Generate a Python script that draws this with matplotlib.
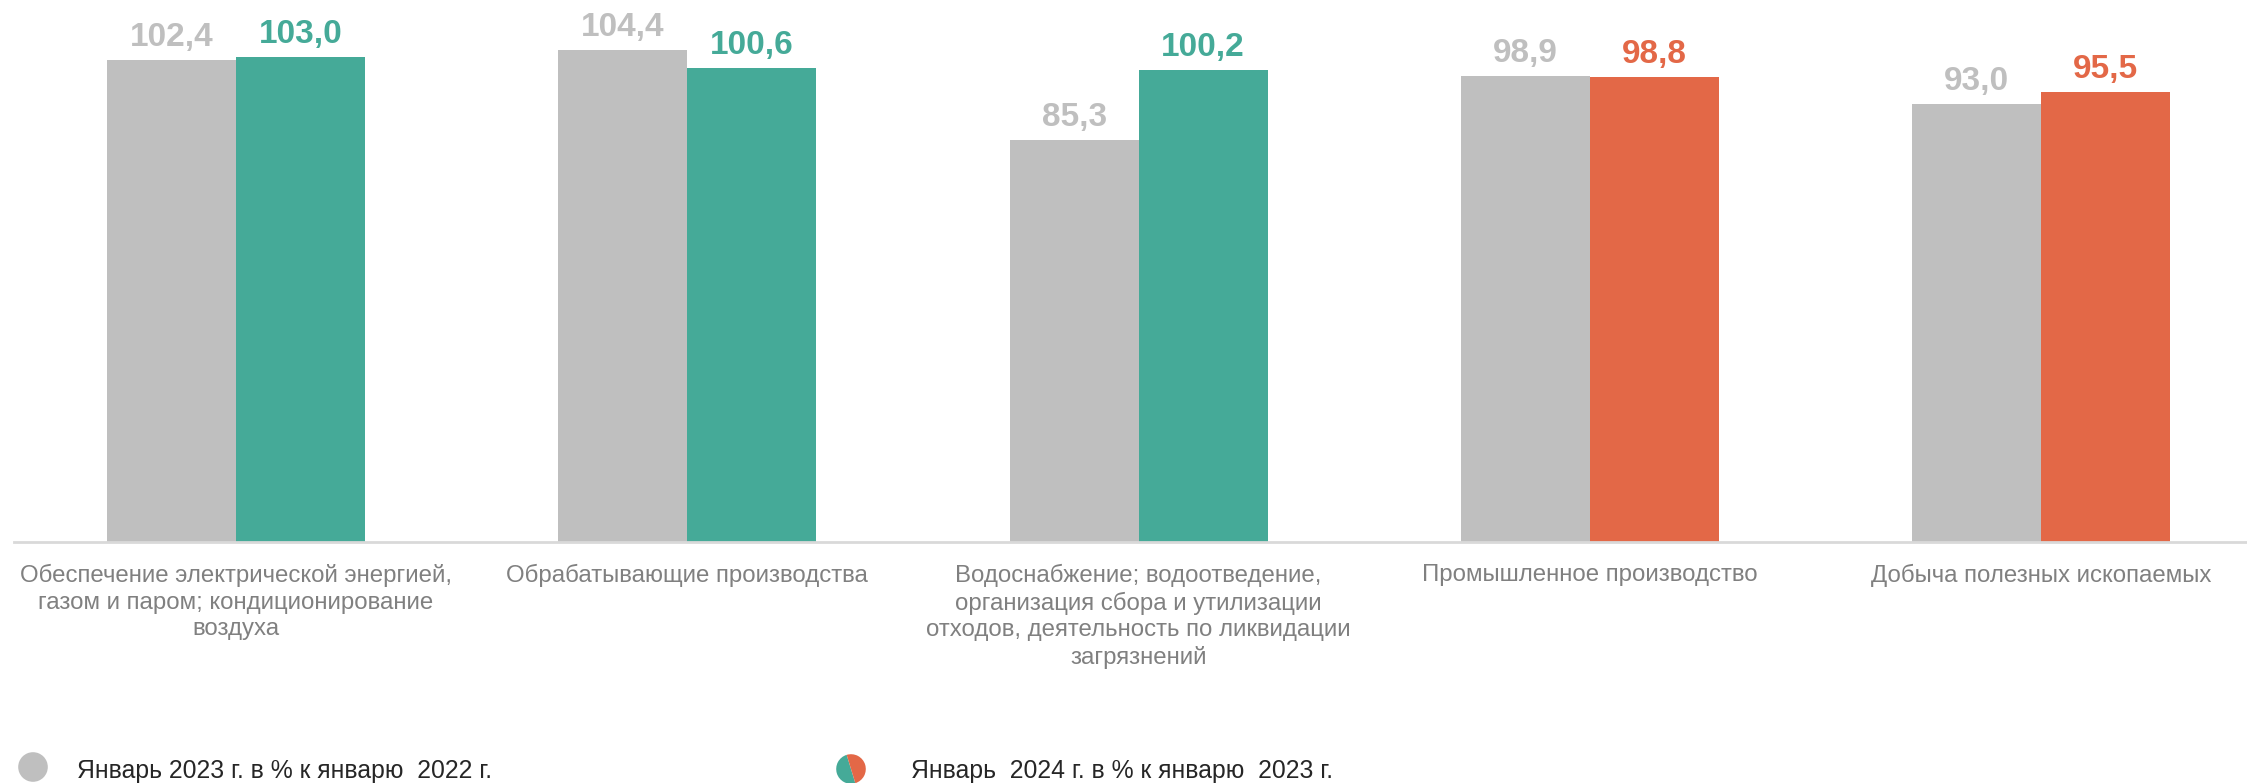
import matplotlib
matplotlib.use("Agg")
import matplotlib.pyplot as plt
import numpy as np

plt.rcParams["font.family"] = ["Liberation Sans", "DejaVu Sans"]

# данные
categories = [
    "Обеспечение электрической энергией,\nгазом и паром; кондиционирование\nвоздуха",
    "Обрабатывающие производства",
    "Водоснабжение; водоотведение,\nорганизация сбора и утилизации\nотходов, деятельность по ликвидации\nзагрязнений",
    "Промышленное производство",
    "Добыча полезных ископаемых",
]
jan2023 = [102.4, 104.4, 85.3, 98.9, 93.0]
jan2024 = [103.0, 100.6, 100.2, 98.8, 95.5]
legend_labels = [
    "Январь 2023 г. в % к январю  2022 г.",
    "Январь  2024 г. в % к январю  2023 г.",
]

GRAY = "#BFBFBF"
TEAL = "#45AA98"
ORANGE = "#E36847"
colors24 = [TEAL if v >= 100 else ORANGE for v in jan2024]

fig = plt.figure(figsize=(22.47, 7.83), dpi=100)
ax = fig.add_axes([14 / 2247, 241 / 783, 1 - 14 / 2247, 1 - 241 / 783])

x = np.arange(len(categories))
w = 0.286
b1 = ax.bar(x - w / 2, jan2023, w, color=GRAY)
b2 = ax.bar(x + w / 2, jan2024, w, color=colors24)

def fmt(v):
    return f"{v:.1f}".replace(".", ",")

for rect, v in zip(b1, jan2023):
    ax.annotate(fmt(v), (rect.get_x() + rect.get_width() / 2, v),
                xytext=(0, 5), textcoords="offset points", ha="center", va="bottom",
                fontsize=24, fontweight="bold", color=GRAY)
for rect, v, c in zip(b2, jan2024, colors24):
    ax.annotate(fmt(v), (rect.get_x() + rect.get_width() / 2, v),
                xytext=(0, 5), textcoords="offset points", ha="center", va="bottom",
                fontsize=24, fontweight="bold", color=c)

ax.set_xlim(-0.492, 4.456)
ax.set_ylim(0, 115.1)
ax.set_xticks(x)
ax.set_xticklabels(categories, fontsize=17.3, color="#808080", linespacing=1.25)
ax.tick_params(axis="x", length=0, pad=16)
ax.set_yticks([])
for s in ["top", "right", "left"]:
    ax.spines[s].set_visible(False)
ax.spines["bottom"].set_color("#D9D9D9")
ax.spines["bottom"].set_linewidth(2)

# легенда
W, H = 2247, 783
d = 37
m1 = fig.add_axes([(33 - d / 2) / W, (16 - d / 2) / H, d / W, d / H])
m1.pie([1], colors=[GRAY], radius=1)
m1.set_aspect("equal")
m2 = fig.add_axes([(851 - d / 2) / W, (14 - d / 2) / H, d / W, d / H])
m2.pie([1, 1], colors=[TEAL, ORANGE], startangle=107, radius=1)
m2.set_aspect("equal")

fig.text(77 / W, 5 / H, legend_labels[0], fontsize=17.8, color="#262626", va="baseline")
fig.text(911 / W, 5 / H, legend_labels[1], fontsize=17.8, color="#262626", va="baseline")

fig.savefig("out.png", dpi=100)
